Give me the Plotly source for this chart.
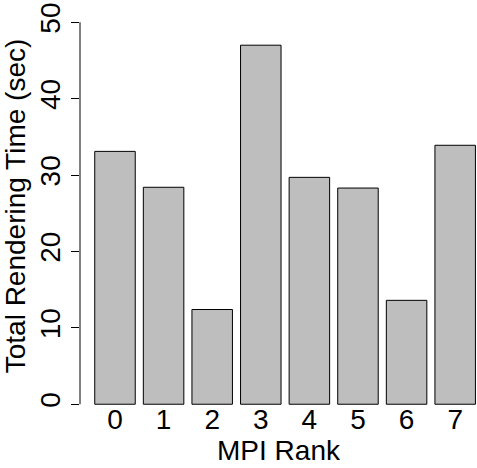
import plotly.graph_objects as go

ranks = ["0", "1", "2", "3", "4", "5", "6", "7"]
times = [33.1, 28.4, 12.4, 47.0, 29.7, 28.3, 13.6, 33.9]
y_ticks = [0, 10, 20, 30, 40, 50]

FONT = "Liberation Sans, Arial, Helvetica, sans-serif"
FS = 28

fig = go.Figure(
    go.Bar(
        x=ranks,
        y=times,
        marker=dict(color="#BEBEBE", line=dict(color="#000000", width=1)),
    )
)

fig.update_layout(
    width=477,
    height=468,
    margin=dict(l=80, r=0, t=7, b=63, pad=0),
    plot_bgcolor="white",
    paper_bgcolor="white",
    bargap=1 / 6,
    showlegend=False,
    font=dict(family=FONT, size=FS, color="black"),
)

fig.update_xaxes(
    type="category",
    range=[-0.72, 7.449],
    automargin=False,
    showline=False,
    showgrid=False,
    zeroline=False,
    ticks="",
    ticklabelstandoff=-5,
    ticklabeloverflow="allow",
    tickfont=dict(size=FS),
    title=dict(text="MPI Rank", font=dict(size=FS), standoff=0),
)

fig.update_yaxes(
    range=[-0.1, 52],
    automargin=False,
    tickvals=y_ticks,
    ticktext=[str(v) for v in y_ticks],
    tickangle=-90,
    ticks="outside",
    ticklen=8,
    tickwidth=1,
    tickcolor="black",
    ticklabelstandoff=0,
    ticklabeloverflow="allow",
    showline=False,
    showgrid=False,
    zeroline=False,
    tickfont=dict(size=FS),
    title=dict(text="Total Rendering Time (sec)", font=dict(size=FS), standoff=2.5),
)

fig.add_shape(
    type="line",
    xref="paper",
    yref="y",
    x0=0,
    x1=0,
    y0=y_ticks[0],
    y1=y_ticks[-1],
    line=dict(color="black", width=1),
    layer="above",
)

fig.write_html(
    "out.html",
    config={"displayModeBar": False},
    post_script="document.body.style.margin='0';document.body.style.overflow='hidden';",
)
